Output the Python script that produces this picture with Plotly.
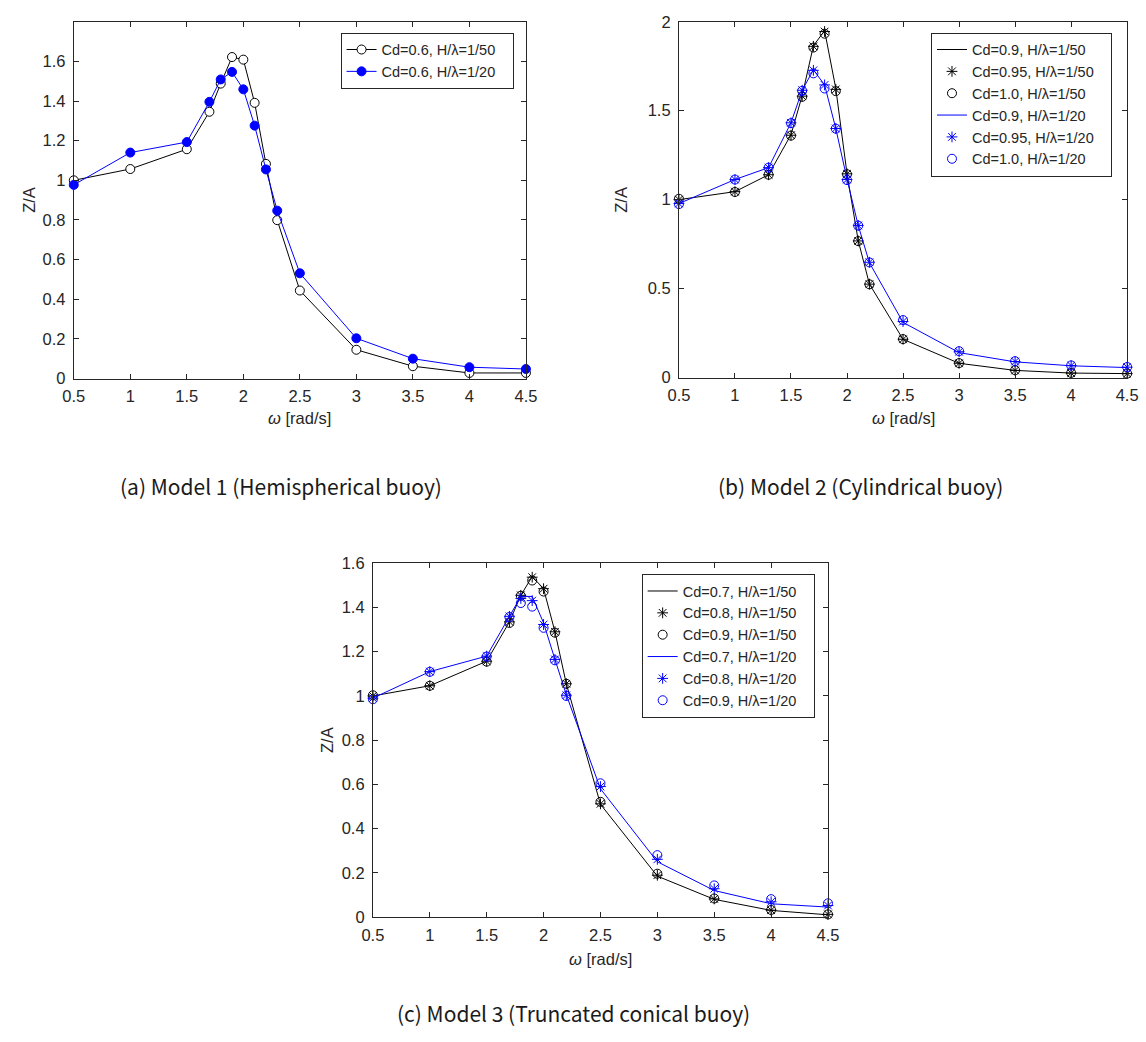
import plotly.graph_objects as go

# ---------------- data ----------------
# (a) Model 1 (Hemispherical buoy)
a_x = [0.5, 1, 1.5, 1.7, 1.8, 1.9, 2.0, 2.1, 2.2, 2.3, 2.5, 3, 3.5, 4, 4.5]
a_h50 = [1.0, 1.057, 1.157, 1.346, 1.488, 1.622, 1.609, 1.391, 1.083, 0.799, 0.444, 0.145, 0.062, 0.028, 0.028]
a_h20 = [0.977, 1.14, 1.193, 1.396, 1.509, 1.547, 1.459, 1.276, 1.055, 0.847, 0.531, 0.203, 0.1, 0.057, 0.048]
a_names = ["Cd=0.6, H/λ=1/50", "Cd=0.6, H/λ=1/20"]

# (b) Model 2 (Cylindrical buoy)
b_x = [0.5, 1, 1.3, 1.5, 1.6, 1.7, 1.8, 1.9, 2.0, 2.1, 2.2, 2.5, 3, 3.5, 4, 4.5]
b_cd090_h50 = [1.0, 1.045, 1.14, 1.365, 1.585, 1.865, 1.95, 1.625, 1.145, 0.77, 0.525, 0.215, 0.08, 0.04, 0.025, 0.022]
b_cd095_h50 = [1.0, 1.045, 1.14, 1.362, 1.582, 1.862, 1.945, 1.62, 1.145, 0.768, 0.525, 0.215, 0.08, 0.04, 0.025, 0.022]
b_cd100_h50 = [1.005, 1.043, 1.14, 1.36, 1.578, 1.855, 1.933, 1.61, 1.143, 0.767, 0.524, 0.216, 0.081, 0.041, 0.026, 0.022]
b_cd090_h20 = [0.978, 1.113, 1.18, 1.432, 1.615, 1.73, 1.645, 1.40, 1.115, 0.855, 0.645, 0.31, 0.14, 0.088, 0.066, 0.056]
b_cd095_h20 = [0.978, 1.113, 1.18, 1.432, 1.615, 1.727, 1.645, 1.40, 1.113, 0.855, 0.648, 0.315, 0.145, 0.09, 0.067, 0.058]
b_cd100_h20 = [0.975, 1.113, 1.18, 1.43, 1.612, 1.71, 1.625, 1.399, 1.11, 0.854, 0.647, 0.323, 0.148, 0.092, 0.068, 0.059]
b_names = ["Cd=0.9, H/λ=1/50", "Cd=0.95, H/λ=1/50", "Cd=1.0, H/λ=1/50",
           "Cd=0.9, H/λ=1/20", "Cd=0.95, H/λ=1/20", "Cd=1.0, H/λ=1/20"]

# (c) Model 3 (Truncated conical buoy)
c_x = [0.5, 1, 1.5, 1.7, 1.8, 1.9, 2.0, 2.1, 2.2, 2.5, 3, 3.5, 4, 4.5]
c_cd07_h50 = [1.0, 1.046, 1.157, 1.335, 1.455, 1.54, 1.485, 1.29, 1.055, 0.51, 0.185, 0.08, 0.03, 0.01]
c_cd08_h50 = [1.0, 1.046, 1.157, 1.335, 1.455, 1.537, 1.485, 1.29, 1.055, 0.512, 0.189, 0.082, 0.031, 0.012]
c_cd09_h50 = [1.003, 1.046, 1.155, 1.33, 1.453, 1.522, 1.472, 1.286, 1.055, 0.521, 0.196, 0.084, 0.032, 0.012]
c_cd07_h20 = [0.99, 1.11, 1.18, 1.36, 1.45, 1.45, 1.33, 1.165, 1.005, 0.58, 0.25, 0.12, 0.06, 0.045]
c_cd08_h20 = [0.99, 1.11, 1.18, 1.36, 1.441, 1.431, 1.323, 1.165, 1.003, 0.59, 0.261, 0.128, 0.069, 0.052]
c_cd09_h20 = [0.985, 1.109, 1.178, 1.357, 1.42, 1.404, 1.308, 1.161, 1.0, 0.605, 0.28, 0.143, 0.081, 0.062]
c_names = ["Cd=0.7, H/λ=1/50", "Cd=0.8, H/λ=1/50", "Cd=0.9, H/λ=1/50",
           "Cd=0.7, H/λ=1/20", "Cd=0.8, H/λ=1/20", "Cd=0.9, H/λ=1/20"]

x_ticks = [0.5, 1, 1.5, 2, 2.5, 3, 3.5, 4, 4.5]
x_ticklabels = ["0.5", "1", "1.5", "2", "2.5", "3", "3.5", "4", "4.5"]
a_yticks = [0, 0.2, 0.4, 0.6, 0.8, 1, 1.2, 1.4, 1.6]
b_yticks = [0, 0.5, 1, 1.5, 2]
c_yticks = [0, 0.2, 0.4, 0.6, 0.8, 1, 1.2, 1.4, 1.6]
captions = ["(a) Model 1 (Hemispherical buoy)", "(b) Model 2 (Cylindrical buoy)",
            "(c) Model 3 (Truncated conical buoy)"]

# ---------------- figure ----------------
W, H = 1146, 1042
BLACK = "#000000"
BLUE = "#0000FF"
AX = "#262626"
FONT = "Liberation Sans, Arial, sans-serif"
TICK_SIZE = 16.5
LEG_SIZE = 14.5
PAD = "\u00a0\u00a0\u00a0"

fig = go.Figure()

def px_x(p):
    return p / W

def px_y(p):
    return 1 - p / H

# panel pixel boxes: (left, right, top, bottom)
boxes = {
    "a": (64, 525, 13, 376),
    "b": (681, 1138, 13, 375),
    "c": (369, 833, 564, 924),
}

# ---- panel (a)
fig.add_trace(go.Scatter(x=a_x, y=a_h50, mode="lines+markers", name=a_names[0] + PAD,
                         line=dict(color=BLACK, width=1),
                         marker=dict(symbol="circle", size=9, color="white",
                                     line=dict(color=BLACK, width=1)),
                         cliponaxis=False, xaxis="x", yaxis="y", legend="legend"))
fig.add_trace(go.Scatter(x=a_x, y=a_h20, mode="lines+markers", name=a_names[1] + PAD,
                         line=dict(color=BLUE, width=1),
                         marker=dict(symbol="circle", size=9, color=BLUE,
                                     line=dict(color=BLUE, width=1)),
                         cliponaxis=False, xaxis="x", yaxis="y", legend="legend"))

# ---- panel (b) and (c)
def add_six(xs, series, names, xa, ya, leg):
    styles = [
        ("lines", BLACK, None),
        ("markers", BLACK, "asterisk-open"),
        ("markers", BLACK, "circle-open"),
        ("lines", BLUE, None),
        ("markers", BLUE, "asterisk-open"),
        ("markers", BLUE, "circle-open"),
    ]
    for ys, nm, (mode, col, sym) in zip(series, names, styles):
        kw = dict(x=xs, y=ys, mode=mode, name=nm + PAD, cliponaxis=False,
                  xaxis=xa, yaxis=ya, legend=leg)
        if mode == "lines":
            kw["line"] = dict(color=col, width=1)
        else:
            kw["marker"] = dict(symbol=sym, size=9, color=col,
                                line=dict(color=col, width=1))
        fig.add_trace(go.Scatter(**kw))

add_six(b_x, [b_cd090_h50, b_cd095_h50, b_cd100_h50, b_cd090_h20, b_cd095_h20, b_cd100_h20],
        b_names, "x2", "y2", "legend2")
add_six(c_x, [c_cd07_h50, c_cd08_h50, c_cd09_h50, c_cd07_h20, c_cd08_h20, c_cd09_h20],
        c_names, "x3", "y3", "legend3")

def xaxis_cfg(box, anchor):
    l, r, t, b = box
    return dict(domain=[px_x(l), px_x(r)], range=[0.5, 4.5], anchor=anchor,
                tickvals=x_ticks, ticktext=x_ticklabels,
                showline=True, mirror="ticks", linecolor=AX, linewidth=1,
                ticks="inside", ticklen=5, tickcolor=AX, tickwidth=1,
                showgrid=False, zeroline=False, ticklabelstandoff=3,
                tickfont=dict(family=FONT, size=TICK_SIZE, color=AX))

def yaxis_cfg(box, anchor, rng, tv):
    l, r, t, b = box
    return dict(domain=[px_y(b), px_y(t)], range=rng, anchor=anchor,
                tickvals=tv, ticktext=[("%g" % v) for v in tv],
                showline=True, mirror="ticks", linecolor=AX, linewidth=1,
                ticks="inside", ticklen=5, tickcolor=AX, tickwidth=1,
                showgrid=False, zeroline=False, ticklabelstandoff=4,
                tickfont=dict(family=FONT, size=TICK_SIZE, color=AX))

legend_common = dict(bgcolor="white", bordercolor=AX, borderwidth=1,
                     font=dict(family=FONT, size=LEG_SIZE, color=AX),
                     xanchor="left", yanchor="top", tracegroupgap=0,
                     itemclick=False, itemdoubleclick=False)

fig.update_layout(
    width=W, height=H, autosize=False,
    margin=dict(l=0, r=0, t=0, b=0),
    paper_bgcolor="white", plot_bgcolor="white",
    xaxis=xaxis_cfg(boxes["a"], "y"),
    yaxis=yaxis_cfg(boxes["a"], "x", [0, 1.8], a_yticks),
    xaxis2=xaxis_cfg(boxes["b"], "y2"),
    yaxis2=yaxis_cfg(boxes["b"], "x2", [0, 2], b_yticks),
    xaxis3=xaxis_cfg(boxes["c"], "y3"),
    yaxis3=yaxis_cfg(boxes["c"], "x3", [0, 1.6], c_yticks),
    legend=dict(x=px_x(336), y=px_y(24), **legend_common),
    legend2=dict(x=px_x(938), y=px_y(24), **legend_common),
    legend3=dict(x=px_x(643), y=px_y(575), **legend_common),
    showlegend=True,
)

annotations = []
# axis titles
for key, ylab_x, xlab_y in (("a", 18, 416), ("b", 622, 416), ("c", 322, 967)):
    l, r, t, b = boxes[key]
    annotations.append(dict(text="<i>ω</i> [rad/s]", x=px_x((l + r) / 2), y=px_y(xlab_y),
                            xref="paper", yref="paper", showarrow=False,
                            xanchor="center", yanchor="middle",
                            font=dict(family=FONT, size=TICK_SIZE, color=AX)))
    annotations.append(dict(text="Z/A", x=px_x(ylab_x), y=px_y((t + b) / 2),
                            xref="paper", yref="paper", showarrow=False, textangle=-90,
                            xanchor="center", yanchor="middle",
                            font=dict(family=FONT, size=TICK_SIZE, color=AX)))
# captions
for txt, cx, cy in zip(captions, (275, 866, 573), (485, 485, 1022)):
    annotations.append(dict(text=txt, x=px_x(cx), y=px_y(cy), xref="paper", yref="paper",
                            showarrow=False, xanchor="center", yanchor="middle",
                            font=dict(family="Noto Sans CJK KR, Noto Sans, sans-serif",
                                      size=21, color="#1a1a1a")))
fig.update_layout(annotations=annotations)

fig.write_html("out.html")
